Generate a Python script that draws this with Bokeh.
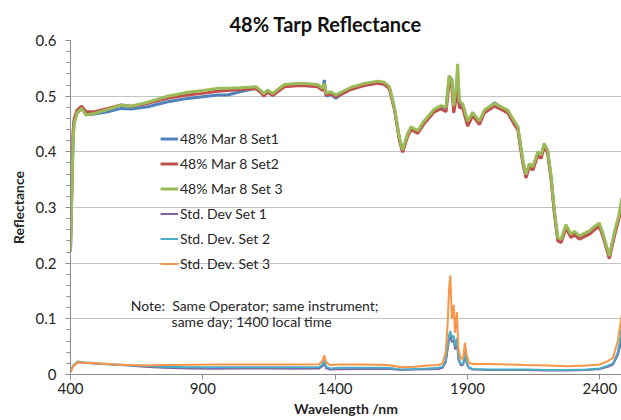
from bokeh.plotting import figure
from bokeh.models import Range1d, FixedTicker, NumeralTickFormatter, Legend, LegendItem, Label
from bokeh.embed import file_html
from bokeh.resources import INLINE

# ---------------- data ----------------
wavelength = [400, 405, 410, 414, 425, 442, 459, 490, 541, 591, 629, 692, 767, 843, 900, 956, 994,
              1040, 1070, 1101, 1120, 1130, 1145, 1164, 1183, 1208, 1271, 1334, 1353, 1359, 1366,
              1384, 1403, 1422, 1460, 1510, 1561, 1586, 1605, 1624, 1643, 1655, 1674, 1687, 1712,
              1737, 1775, 1800, 1819, 1831, 1841, 1848, 1857, 1863, 1869, 1882, 1901, 1920, 1945,
              1964, 2002, 2027, 2052, 2077, 2090, 2109, 2121, 2134, 2147, 2166, 2178, 2190, 2203,
              2216, 2228, 2241, 2254, 2272, 2291, 2304, 2323, 2361, 2380, 2398, 2411, 2436, 2455,
              2474, 2484]

set1 = [0.22, 0.33, 0.43, 0.455, 0.47, 0.478, 0.467, 0.468, 0.472, 0.478, 0.477, 0.481, 0.490, 0.496,
        0.499, 0.502, 0.502, 0.508, 0.511, 0.515, 0.508, 0.502, 0.509, 0.503, 0.510, 0.519, 0.521,
        0.519, 0.511, 0.529, 0.500, 0.503, 0.496, 0.503, 0.513, 0.521, 0.525, 0.523, 0.515, 0.478,
        0.423, 0.401, 0.431, 0.443, 0.436, 0.454, 0.475, 0.481, 0.478, 0.535, 0.530, 0.478, 0.505,
        0.535, 0.488, 0.483, 0.452, 0.469, 0.453, 0.473, 0.488, 0.480, 0.473, 0.453, 0.444, 0.384,
        0.357, 0.377, 0.371, 0.398, 0.392, 0.413, 0.401, 0.354, 0.294, 0.244, 0.241, 0.267, 0.250,
        0.255, 0.247, 0.256, 0.264, 0.270, 0.253, 0.211, 0.252, 0.287, 0.314]

set2 = [0.23, 0.34, 0.44, 0.46, 0.475, 0.482, 0.472, 0.472, 0.478, 0.484, 0.482, 0.487, 0.496, 0.502,
        0.505, 0.509, 0.510, 0.512, 0.513, 0.513, 0.506, 0.500, 0.507, 0.501, 0.508, 0.517, 0.519,
        0.517, 0.510, 0.515, 0.502, 0.504, 0.499, 0.503, 0.512, 0.519, 0.523, 0.521, 0.513, 0.476,
        0.420, 0.399, 0.428, 0.440, 0.433, 0.451, 0.472, 0.477, 0.472, 0.525, 0.515, 0.470, 0.495,
        0.520, 0.480, 0.478, 0.446, 0.465, 0.449, 0.470, 0.482, 0.476, 0.470, 0.449, 0.440, 0.380,
        0.353, 0.373, 0.367, 0.394, 0.388, 0.409, 0.397, 0.350, 0.291, 0.240, 0.237, 0.263, 0.246,
        0.251, 0.243, 0.252, 0.260, 0.266, 0.249, 0.208, 0.248, 0.283, 0.310]

set3 = [0.22, 0.32, 0.42, 0.45, 0.47, 0.478, 0.466, 0.469, 0.476, 0.484, 0.482, 0.489, 0.500, 0.507,
        0.510, 0.514, 0.514, 0.515, 0.516, 0.517, 0.510, 0.504, 0.511, 0.505, 0.512, 0.521, 0.523,
        0.521, 0.514, 0.523, 0.505, 0.508, 0.502, 0.507, 0.516, 0.523, 0.527, 0.525, 0.517, 0.480,
        0.425, 0.403, 0.433, 0.445, 0.438, 0.456, 0.477, 0.483, 0.480, 0.537, 0.528, 0.482, 0.516,
        0.558, 0.492, 0.486, 0.455, 0.471, 0.455, 0.475, 0.487, 0.481, 0.475, 0.455, 0.446, 0.386,
        0.359, 0.379, 0.373, 0.400, 0.394, 0.415, 0.403, 0.356, 0.296, 0.246, 0.243, 0.269, 0.252,
        0.257, 0.249, 0.258, 0.266, 0.272, 0.255, 0.213, 0.255, 0.290, 0.318]

wavelength_sd = [400, 410, 427, 450, 500, 553, 620, 678, 750, 850, 950, 1050, 1150, 1250, 1340, 1352,
                 1359, 1366, 1380, 1420, 1500, 1600, 1650, 1700, 1750, 1790, 1806, 1818, 1825, 1830,
                 1835, 1841, 1848, 1853, 1860, 1866, 1875, 1884, 1890, 1897, 1905, 1920, 1980, 2050,
                 2120, 2200, 2280, 2350, 2400, 2430, 2450, 2468, 2476, 2484]

sd1 = [0.005, 0.015, 0.022, 0.021, 0.0195, 0.018, 0.016, 0.014, 0.012, 0.011, 0.0105, 0.011, 0.011,
       0.0105, 0.011, 0.015, 0.020, 0.011, 0.009, 0.0095, 0.010, 0.0105, 0.008, 0.009, 0.0095, 0.010,
       0.012, 0.022, 0.045, 0.062, 0.070, 0.058, 0.062, 0.045, 0.058, 0.027, 0.016, 0.018, 0.036,
       0.020, 0.012, 0.009, 0.008, 0.008, 0.008, 0.007, 0.007, 0.008, 0.010, 0.014, 0.018, 0.035,
       0.050, 0.075]

sd2 = [0.006, 0.016, 0.0235, 0.022, 0.020, 0.0185, 0.0165, 0.0155, 0.014, 0.013, 0.013, 0.013, 0.013,
       0.013, 0.0135, 0.018, 0.025, 0.014, 0.011, 0.012, 0.012, 0.012, 0.009, 0.010, 0.011, 0.012,
       0.014, 0.025, 0.050, 0.070, 0.078, 0.065, 0.070, 0.050, 0.065, 0.030, 0.018, 0.020, 0.040,
       0.022, 0.013, 0.010, 0.009, 0.009, 0.009, 0.008, 0.008, 0.009, 0.011, 0.016, 0.020, 0.040,
       0.060, 0.090]

sd3 = [0.005, 0.015, 0.0225, 0.021, 0.020, 0.0185, 0.017, 0.016, 0.017, 0.0175, 0.0178, 0.018, 0.018,
       0.018, 0.0185, 0.025, 0.034, 0.022, 0.017, 0.018, 0.018, 0.017, 0.013, 0.014, 0.016, 0.017,
       0.020, 0.040, 0.090, 0.150, 0.178, 0.100, 0.125, 0.075, 0.112, 0.045, 0.028, 0.030, 0.057,
       0.035, 0.021, 0.019, 0.019, 0.018, 0.017, 0.016, 0.015, 0.016, 0.018, 0.024, 0.030, 0.060,
       0.085, 0.110]

series_names = ["48% Mar 8 Set1", "48% Mar 8 Set2", "48% Mar 8 Set 3",
                "Std. Dev Set 1", "Std. Dev. Set 2", "Std. Dev. Set 3"]
x_ticks = [400, 900, 1400, 1900, 2400]
y_ticks = [0, 0.1, 0.2, 0.3, 0.4, 0.5, 0.6]
y_minor_ticks = [0.02, 0.04, 0.06, 0.08, 0.12, 0.14, 0.16, 0.18, 0.22, 0.24, 0.26, 0.28,
                 0.32, 0.34, 0.36, 0.38, 0.42, 0.44, 0.46, 0.48, 0.52, 0.54, 0.56, 0.58]

FONT = "Lato"
TXT = "#262626"
AXC = "#8c8c8c"

p = figure(width=621, height=420, output_backend="svg", toolbar_location=None,
           x_range=Range1d(400, 2482), y_range=Range1d(0, 0.6),
           min_border_left=70, min_border_right=0, min_border_top=40, min_border_bottom=46)
p.outline_line_color = None
p.background_fill_color = "white"
p.border_fill_color = "white"

# title
p.title.text = "48% Tarp Reflectance"
p.title.align = "left"
p.title.offset = 159
p.title.text_font = FONT
p.title.text_font_size = "20px"
p.title.text_font_style = "bold"
p.title.text_color = "#111111"
p.title.standoff = 9

# axes
p.xaxis.ticker = FixedTicker(ticks=x_ticks)
p.yaxis.ticker = FixedTicker(ticks=y_ticks, minor_ticks=y_minor_ticks)
p.yaxis.formatter = NumeralTickFormatter(format="0.[0]")
for ax in (p.xaxis, p.yaxis):
    ax.axis_line_color = AXC
    ax.major_tick_line_color = AXC
    ax.minor_tick_line_color = AXC
    ax.major_tick_in = 0
    ax.major_tick_out = 5
    ax.minor_tick_in = 0
    ax.minor_tick_out = 4
    ax.major_label_text_font = FONT
    ax.major_label_text_font_size = "15px"
    ax.major_label_text_color = TXT
    ax.axis_label_text_font = FONT
    ax.axis_label_text_font_size = "14px"
    ax.axis_label_text_font_style = "bold"
    ax.axis_label_text_color = TXT
p.xaxis.minor_tick_out = 0
p.xaxis.major_label_standoff = 3
p.xaxis.axis_label = "Wavelength /nm"
p.xaxis.axis_label_standoff = 3
p.yaxis.major_label_standoff = 9
p.yaxis.axis_label = "Reflectance"
p.yaxis.axis_label_standoff = 6

p.xgrid.grid_line_color = None
p.ygrid.grid_line_color = "#c4c4c4"
p.ygrid.grid_line_width = 1

colors = ["#4F81BD", "#C0504D", "#9BBB59", "#8064A2", "#4BACC6", "#F79646"]

r_sd1 = p.line(wavelength_sd, sd1, line_color=colors[3], line_width=2)
r_sd2 = p.line(wavelength_sd, sd2, line_color=colors[4], line_width=2)
r_sd3 = p.line(wavelength_sd, sd3, line_color=colors[5], line_width=2)
r1 = p.line(wavelength, set1, line_color=colors[0], line_width=3)
r2 = p.line(wavelength, set2, line_color=colors[1], line_width=3)
r3 = p.line(wavelength, set3, line_color=colors[2], line_width=3)

renderers = [r1, r2, r3, r_sd1, r_sd2, r_sd3]
legend = Legend(items=[LegendItem(label=n, renderers=[r]) for n, r in zip(series_names, renderers)],
                location=(90, 98), padding=0, margin=0, spacing=0,
                glyph_width=18, glyph_height=25, label_height=25, label_standoff=2,
                label_text_font=FONT, label_text_font_size="14px", label_text_color=TXT,
                border_line_color=None, background_fill_alpha=0)
p.add_layout(legend, "center")

note1 = Label(x=628, y=0.1244, text="Note:\u00a0 Same Operator; same instrument;", text_align="left",
              text_baseline="middle", text_font=FONT, text_font_size="14px", text_color=TXT)
note2 = Label(x=782, y=0.0944, text="same day; 1400 local time", text_align="left",
              text_baseline="middle", text_font=FONT, text_font_size="14px", text_color=TXT)
p.add_layout(note1)
p.add_layout(note2)

open("out.html", "w").write(file_html(p, INLINE))
